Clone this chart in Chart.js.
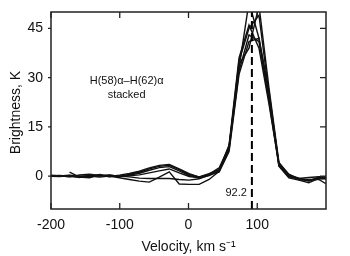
<!DOCTYPE html>
<html>
<head>
<meta charset="utf-8">
<script src="https://cdn.jsdelivr.net/npm/chart.js@4/dist/chart.umd.min.js"></script>
<style>html,body{margin:0;padding:0;background:#fff;}canvas{display:block;}</style>
</head>
<body>
<canvas id="c" width="350" height="256"></canvas>
<script>
// Velocity grid (km/s)
const velocity = [-202,-187.5,-173,-158.5,-144,-129.5,-115,-100.5,-86,-71.5,-57,-42.5,-28,-13.5,1,15.5,30,44.5,59,73.5,88,102.5,117,131.5,146,160.5,175,189.5,204];
// Brightness (K) for each stacked line profile
const s1 = [0.3,0.1,-0.2,0.4,0.6,0.2,-0.1,0.3,0.8,1.5,2.5,3.3,3.6,2.2,0.8,-0.3,0.6,2.5,9.0,33,53,42,24,3.5,0.2,-1.0,-1.3,-0.8,-0.7];
const s2 = [0.0,-0.1,0.2,-0.4,0.3,0.0,0.4,-0.1,0.5,1.2,2.2,3.0,3.3,2.0,0.5,-0.2,0.8,2.0,8.5,35,45,49,25,4.0,0.6,-0.8,-1.5,-0.3,-0.4];
const s3 = [null,null,1.2,-0.3,-0.5,0.5,0.1,-0.2,0.3,0.9,1.8,2.6,2.9,1.6,0.2,-0.6,0.2,1.5,8.0,32,43,41,23,3.0,-0.5,-1.2,-2.0,-0.7,-0.8];
const s4 = [0.2,0.0,-0.1,-0.3,0.2,0.4,-0.2,0.1,0.1,0.4,1.0,1.6,2.2,1.0,-0.1,-0.4,0.5,1.2,7.5,31,41,42,26,3.2,-0.2,-0.9,-1.0,-1.0,-2.8];
const s5 = [0.1,0.2,0.0,0.1,0.0,-0.3,0.0,-0.5,-1.0,-1.5,-1.8,-0.3,1.3,-2.4,-2.5,-2.5,-1.0,1.5,9.0,34,39,52,27,4.2,0.4,-0.6,-1.3,-0.5,-0.5];
const s6 = [-0.1,0.1,0.3,0.0,-0.2,0.1,0.3,0.0,-0.2,-0.6,-0.7,-0.7,-0.7,-1.0,-1.2,-0.8,0.3,1.8,9.5,36,46,39,22,3.8,0.0,-0.7,-0.4,-0.2,-0.3];
const seriesList = [s1,s2,s3,s4,s5,s6];
const xTicks = [-200,-100,0,100];
const yTicks = [0,15,30,45];
const xRange = [-200,200];
const yRange = [-10,50];
const markVelocity = 92.2;
const markLabel = "92.2";
const annotation = ["H(58)α–H(62)α","stacked"];
const xTitle = "Velocity, km s⁻¹";
const yTitle = "Brightness, K";

const FONT = "Liberation Sans, Arial, sans-serif";

const deco = {
  id: 'deco',
  afterDatasetsDraw(chart) {
    const ctx = chart.ctx, a = chart.chartArea;
    const xs = chart.scales.x, ys = chart.scales.y;
    ctx.save();
    // dashed marker
    const mx = xs.getPixelForValue(markVelocity);
    ctx.strokeStyle = '#000'; ctx.lineWidth = 2; ctx.setLineDash([8,4]);
    ctx.beginPath(); ctx.moveTo(mx, a.bottom); ctx.lineTo(mx, a.top); ctx.stroke();
    ctx.setLineDash([]);
    // frame
    ctx.strokeStyle = '#222'; ctx.lineWidth = 1.5;
    ctx.strokeRect(a.left, a.top, a.right - a.left, a.bottom - a.top);
    // ticks
    ctx.lineWidth = 1.3;
    ctx.beginPath();
    xTicks.forEach(v => {
      const px = xs.getPixelForValue(v);
      ctx.moveTo(px, a.bottom); ctx.lineTo(px, a.bottom - 6);
      ctx.moveTo(px, a.top); ctx.lineTo(px, a.top + 6);
    });
    yTicks.forEach(v => {
      const py = ys.getPixelForValue(v);
      ctx.moveTo(a.left, py); ctx.lineTo(a.left - 3, py);
      ctx.moveTo(a.right, py); ctx.lineTo(a.right - 6, py);
    });
    ctx.stroke();
    // text
    ctx.fillStyle = '#111';
    ctx.font = '11px ' + FONT;
    ctx.textAlign = 'right'; ctx.textBaseline = 'middle';
    ctx.fillText(markLabel, mx - 5, ys.getPixelForValue(-5));
    ctx.textAlign = 'center';
    const ax = xs.getPixelForValue(-90);
    ctx.fillText(annotation[0], ax, ys.getPixelForValue(29));
    ctx.fillText(annotation[1], ax, ys.getPixelForValue(24.8));
    // axis titles
    ctx.font = '14px ' + FONT;
    ctx.fillText(xTitle, (a.left + a.right) / 2, 247);
    ctx.save();
    ctx.translate(16, (a.top + a.bottom) / 2 + 2);
    ctx.rotate(-Math.PI / 2);
    ctx.fillText(yTitle, 0, 0);
    ctx.restore();
    ctx.restore();
  }
};

new Chart(document.getElementById('c'), {
  type: 'line',
  data: {
    datasets: seriesList.map(s => ({
      data: velocity.map((v, i) => ({x: v, y: s[i]})),
      borderColor: '#111',
      borderWidth: 1.4,
      pointRadius: 0,
      tension: 0,
      fill: false,
      spanGaps: false
    }))
  },
  options: {
    responsive: false,
    animation: false,
    events: [],
    layout: {padding: {top: 12, right: 24, left: 0, bottom: 0}},
    plugins: {legend: {display: false}, tooltip: {enabled: false}},
    scales: {
      x: {
        type: 'linear', min: xRange[0], max: xRange[1],
        afterBuildTicks: s => { s.ticks = xTicks.map(v => ({value: v})); },
        afterFit: s => { s.height = 47; s.paddingLeft = 0; s.paddingRight = 0; },
        grid: {display: false, drawTicks: false},
        border: {display: false},
        ticks: {color: '#111', font: {family: FONT, size: 14}, padding: 8, maxRotation: 0}
      },
      y: {
        type: 'linear', min: yRange[0], max: yRange[1],
        afterBuildTicks: s => { s.ticks = yTicks.map(v => ({value: v})); },
        afterFit: s => { s.width = 51; s.paddingTop = 0; s.paddingBottom = 0; },
        grid: {display: false, drawTicks: false},
        border: {display: false},
        ticks: {color: '#111', font: {family: FONT, size: 14}, padding: 8}
      }
    }
  },
  plugins: [deco]
});
</script>
</body>
</html>
